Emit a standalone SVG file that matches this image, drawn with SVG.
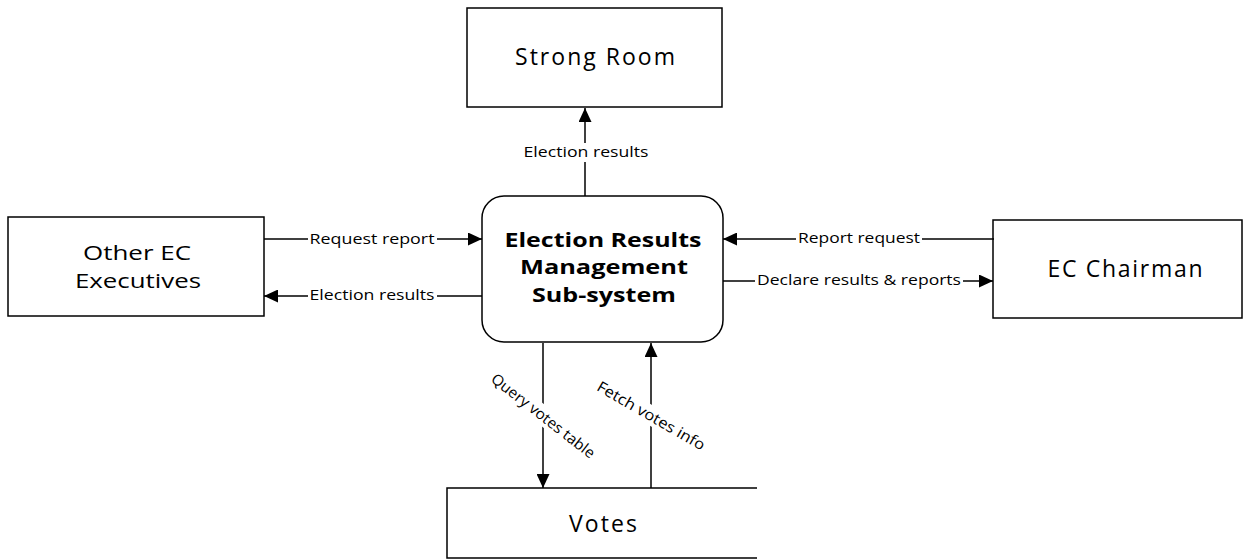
<svg xmlns="http://www.w3.org/2000/svg" width="1252" height="559" viewBox="0 0 1252 559">
  <defs>
    <marker id="arrow" markerUnits="userSpaceOnUse" markerWidth="15" markerHeight="13" refX="14" refY="6.5" orient="auto">
      <path d="M0,0 L14,6.5 L0,13 Z" fill="#000"/>
    </marker>
    <style>
      .box { fill: #fff; stroke: #000; stroke-width: 1.5; }
      .flow { fill: none; stroke: #000; stroke-width: 1.5; marker-end: url(#arrow); }
      .title { font-family: "Open Sans", "Liberation Sans", sans-serif; font-size: 23px; fill: #000; text-anchor: middle; }
      .two-line { font-size: 20px; }
      .bold { font-weight: bold; font-size: 20px; }
      .label { font-family: "Open Sans", "Liberation Sans", sans-serif; font-size: 15px; fill: #000; text-anchor: middle; }
      .mask { fill: #fff; stroke: none; }
    </style>
  </defs>

  <!-- external entities and the central process -->
  <g id="strong-room">
    <rect class="box" x="467" y="8" width="255" height="99"/>
    <text class="title" x="595" y="65" textLength="160" lengthAdjust="spacing">Strong Room</text>
  </g>

  <g id="other-ec-executives">
    <rect class="box" x="8" y="217" width="256" height="99"/>
    <text class="title two-line" x="137" y="260" textLength="108" lengthAdjust="spacingAndGlyphs">Other EC</text>
    <text class="title two-line" x="138" y="288" textLength="126" lengthAdjust="spacingAndGlyphs">Executives</text>
  </g>

  <g id="ec-chairman">
    <rect class="box" x="993" y="220" width="249" height="98"/>
    <text class="title" x="1125" y="277" textLength="155" lengthAdjust="spacing">EC Chairman</text>
  </g>

  <g id="votes">
    <!-- open-ended store: top and bottom edges plus left side only -->
    <path class="box" d="M757,488 H447 V558 H757"/>
    <text class="title" x="603" y="532" textLength="68" lengthAdjust="spacing">Votes</text>
  </g>

  <g id="election-results-management">
    <rect class="box" x="482" y="196" width="241" height="146" rx="22" ry="22"/>
    <text class="title bold" x="603" y="247" textLength="197" lengthAdjust="spacingAndGlyphs">Election Results</text>
    <text class="title bold" x="604" y="274" textLength="168" lengthAdjust="spacingAndGlyphs">Management</text>
    <text class="title bold" x="604" y="302" textLength="144" lengthAdjust="spacingAndGlyphs">Sub-system</text>
  </g>

  <!-- data flows; each label sits on a white patch that breaks its line -->
  <g id="connectors">
    <line class="flow" x1="585" y1="196" x2="585" y2="108"/>
    <rect class="mask" x="521" y="143" width="130" height="19"/>
    <text class="label" x="586" y="157" textLength="125" lengthAdjust="spacingAndGlyphs">Election results</text>

    <line class="flow" x1="264" y1="239" x2="482" y2="239"/>
    <rect class="mask" x="308" y="230" width="129" height="19"/>
    <text class="label" x="372" y="244" textLength="125" lengthAdjust="spacingAndGlyphs">Request report</text>

    <line class="flow" x1="482" y1="296" x2="264" y2="296"/>
    <rect class="mask" x="308" y="287" width="129" height="19"/>
    <text class="label" x="372" y="300" textLength="125" lengthAdjust="spacingAndGlyphs">Election results</text>

    <line class="flow" x1="994" y1="239" x2="723" y2="239"/>
    <rect class="mask" x="796" y="230" width="126" height="19"/>
    <text class="label" x="859" y="243" textLength="122" lengthAdjust="spacingAndGlyphs">Report request</text>

    <line class="flow" x1="723" y1="281" x2="993" y2="281"/>
    <rect class="mask" x="755" y="272" width="208" height="19"/>
    <text class="label" x="859" y="285" textLength="204" lengthAdjust="spacingAndGlyphs">Declare results &amp; reports</text>

    <line class="flow" x1="543" y1="343" x2="543" y2="488"/>
    <g transform="translate(543,416) rotate(38)">
      <rect class="mask" x="-65" y="-10" width="130" height="19"/>
      <text class="label" x="0" y="5" textLength="127" lengthAdjust="spacingAndGlyphs">Query votes table</text>
    </g>

    <line class="flow" x1="651" y1="488" x2="651" y2="343"/>
    <g transform="translate(651,416) rotate(30)">
      <rect class="mask" x="-63" y="-10" width="126" height="19"/>
      <text class="label" x="0" y="5" textLength="122" lengthAdjust="spacingAndGlyphs">Fetch votes info</text>
    </g>
  </g>
</svg>
